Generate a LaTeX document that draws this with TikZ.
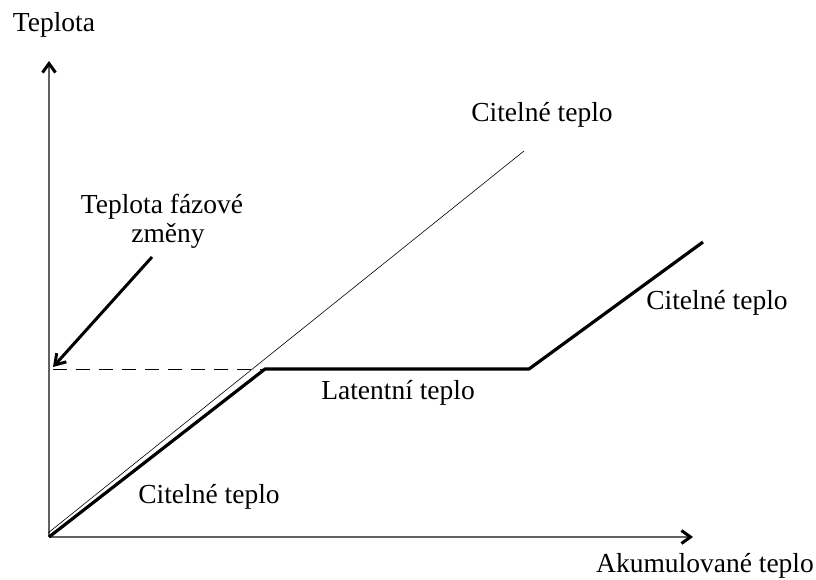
\documentclass[tikz,border=0pt]{standalone}
\usepackage{fontspec}
\setmainfont{Liberation Serif}
\usetikzlibrary{arrows.meta}
\begin{document}
\begin{tikzpicture}[x=1pt,y=-1pt,
  lbl/.style={font=\fontsize{27.5}{31}\selectfont, anchor=base, inner sep=0pt},
  axis/.style={draw=black!62, line width=1.6pt, -{Straight Barb[length=9pt,width=13pt,line width=3pt,color=black]}},
  thickline/.style={line width=3.2pt, line join=round},
  thinline/.style={line width=0.6pt},
  pointer/.style={line width=3pt, -{Straight Barb[length=10pt,width=13pt,line width=3pt]}}]
\useasboundingbox (0,0) rectangle (816,580);
\coordinate (O) at (49,537);
\coordinate (ytop) at (49,61);
\coordinate (xend) at (693,537);
\coordinate (thinA) at (48,533);
\coordinate (thinB) at (524,151);
\coordinate (k1) at (265,369);
\coordinate (k2) at (529,369);
\coordinate (k3) at (703,242);
\coordinate (dashA) at (53,369);
\coordinate (ptrA) at (152,257);
\coordinate (ptrB) at (53,367);
\draw[axis] (O) -- (ytop);
\draw[axis] (O) -- (xend);
\draw[thinline] (thinA) -- (thinB);
\draw[thickline] (O) -- (k1) -- (k2) -- (k3);
\draw[dashed, dash pattern=on 14pt off 9pt, line width=0.9pt] (dashA) -- (k1);
\draw[pointer] (ptrA) -- (ptrB);
\node[lbl] (tT) at (54,32) {Teplota};
\node[lbl] (tC1) at (542,122) {Citelné teplo};
\node[lbl] (tF1) at (162,213) {Teplota fázové};
\node[lbl] (tF2) at (168,242) {změny};
\node[lbl] (tC2) at (717,309) {Citelné teplo};
\node[lbl] (tL) at (398,399) {Latentní teplo};
\node[lbl] (tC3) at (209,503) {Citelné teplo};
\node[lbl] (tA) at (705,572) {Akumulované teplo};
\end{tikzpicture}
\end{document}
